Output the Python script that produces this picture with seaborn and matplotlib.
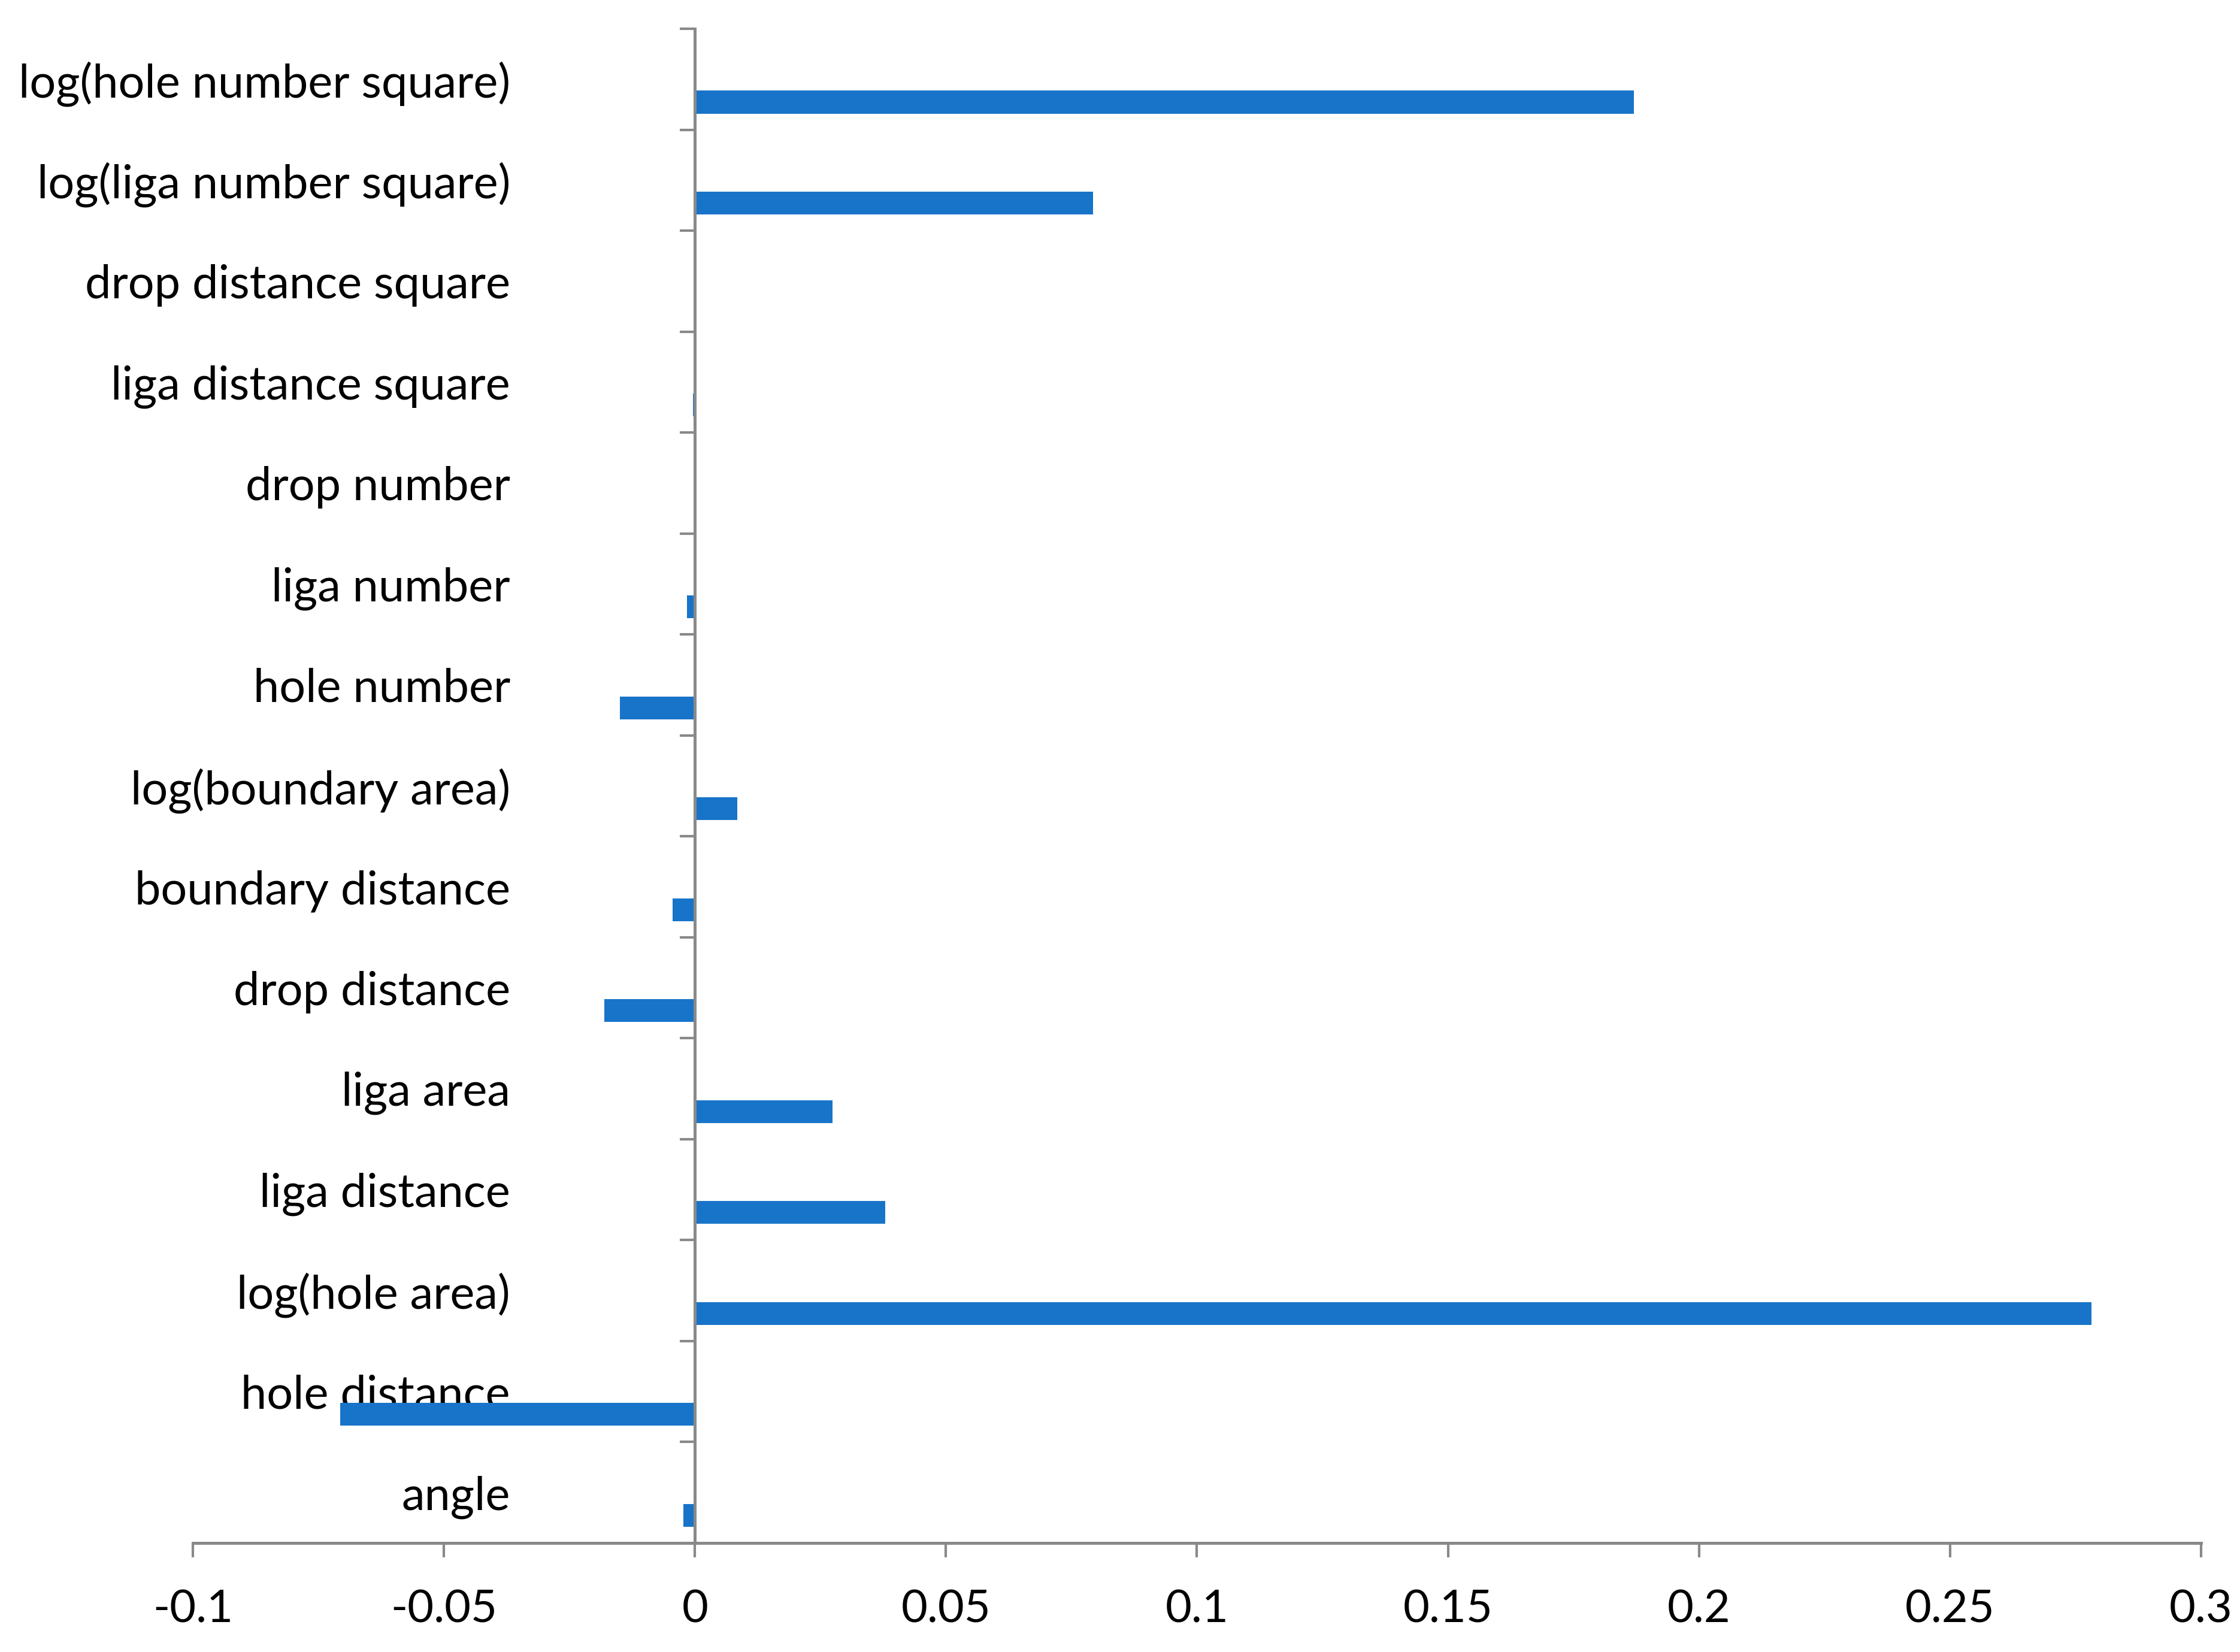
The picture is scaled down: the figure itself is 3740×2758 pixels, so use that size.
import pandas as pd
import seaborn as sns
import matplotlib

matplotlib.use("Agg")
import matplotlib.pyplot as plt

# 各变量系数（从上到下）
features = [
    "log(hole number square)",
    "log(liga number square)",
    "drop distance square",
    "liga distance square",
    "drop number",
    "liga number",
    "hole number",
    "log(boundary area)",
    "boundary distance",
    "drop distance",
    "liga area",
    "liga distance",
    "log(hole area)",
    "hole distance",
    "angle",
]
coefs = [
    0.187,
    0.0793,
    0.0,
    -0.0004,
    0.0,
    -0.0016,
    -0.0150,
    0.0085,
    -0.0044,
    -0.0180,
    0.0274,
    0.0379,
    0.2782,
    -0.0707,
    -0.0023,
]
x_ticks = [-0.1, -0.05, 0, 0.05, 0.1, 0.15, 0.2, 0.25, 0.3]
x_tick_labels = ["-0.1", "-0.05", "0", "0.05", "0.1", "0.15", "0.2", "0.25", "0.3"]

bar_color = "#1874c8"
axis_color = "#898989"

sns.set_theme(style="white")
plt.rcParams["font.family"] = ["Lato", "DejaVu Sans"]

df = pd.DataFrame({"feature": features, "coef": coefs, "series": "coef"})

fig, ax = plt.subplots(figsize=(3740 / 300, 2758 / 300), dpi=300)
fig.subplots_adjust(left=0.0861, right=0.9826, top=0.9826, bottom=0.066)

# 三个系列的簇状条形图，只有最后一个系列有值（Excel 原图的位置）
sns.barplot(
    data=df,
    x="coef",
    y="feature",
    hue="series",
    hue_order=["s1", "s2", "coef"],
    order=features,
    palette={"s1": bar_color, "s2": bar_color, "coef": bar_color},
    width=0.68,
    dodge=True,
    saturation=1,
    errorbar=None,
    linewidth=0,
    legend=False,
    orient="h",
    ax=ax,
)

ax.set_xlim(-0.1, 0.3)
ax.set_ylim(len(features) - 0.5, -0.5)
ax.set_xlabel("")
ax.set_ylabel("")

for side in ["top", "right"]:
    ax.spines[side].set_visible(False)
ax.spines["left"].set_position(("data", 0))
for side in ["left", "bottom"]:
    ax.spines[side].set_color(axis_color)
    ax.spines[side].set_linewidth(1.2)

ax.set_xticks(x_ticks)
ax.set_xticklabels(x_tick_labels)
ax.set_yticks(range(len(features)))
ax.set_yticklabels(features)
ax.set_yticks([i - 0.5 for i in range(len(features) + 1)], minor=True)

ax.tick_params(axis="x", which="major", direction="out", length=5.8, width=1.0,
               color=axis_color, pad=12.5, labelsize=18.2, labelcolor="black",
               bottom=True)
ax.tick_params(axis="y", which="major", length=0, pad=74, labelsize=18.6,
               labelcolor="black")
ax.tick_params(axis="y", which="minor", direction="out", length=6, width=1.0,
               color=axis_color, left=True)

plt.savefig("out.png", dpi=300)
plt.close(fig)
